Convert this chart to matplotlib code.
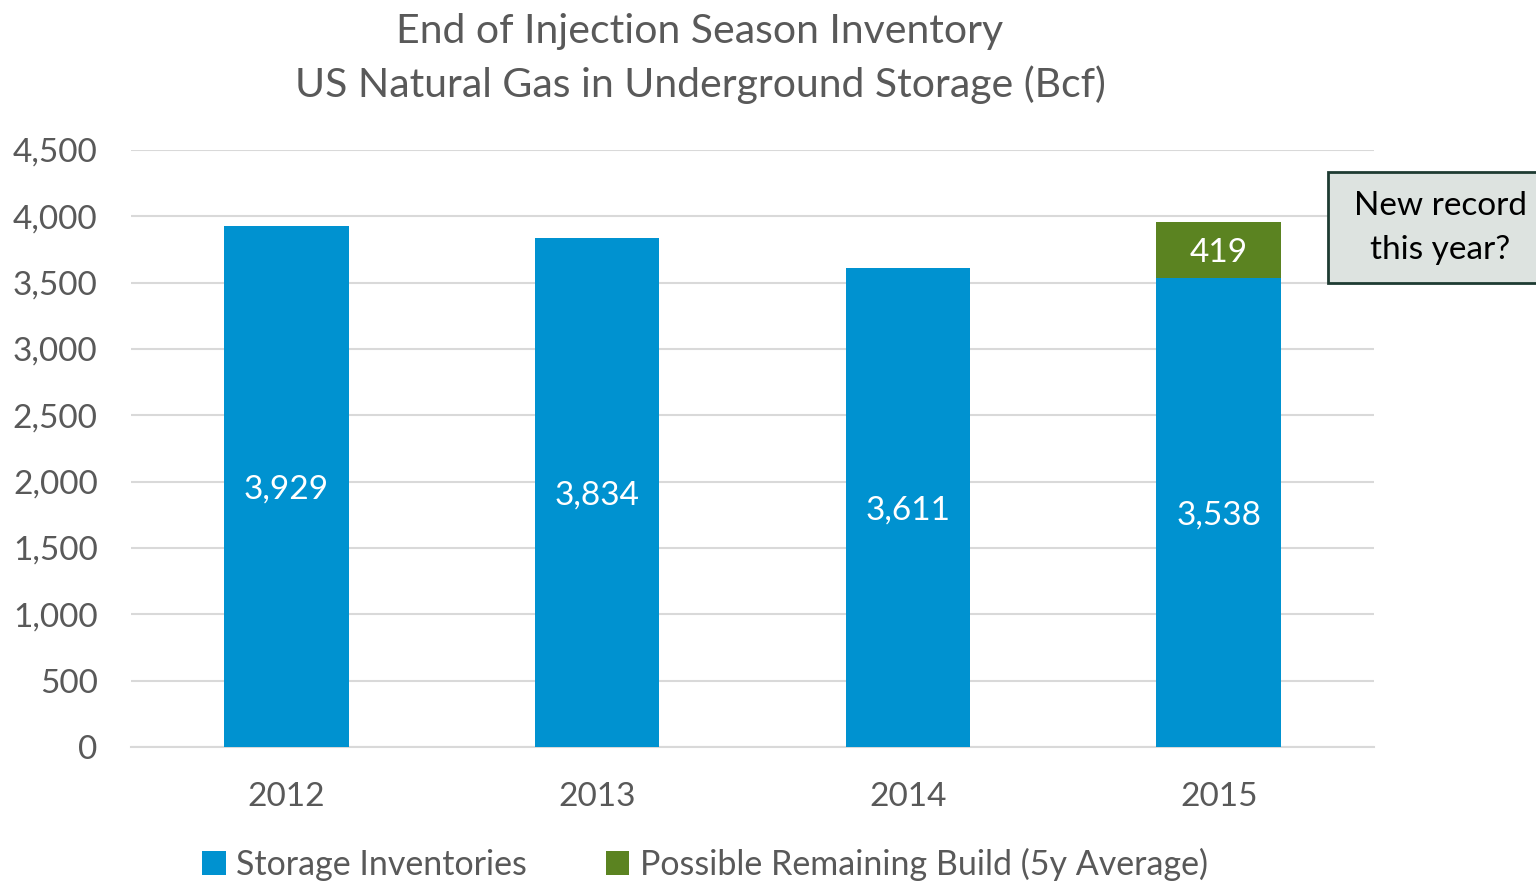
import matplotlib
matplotlib.use("Agg")
import matplotlib.pyplot as plt
from matplotlib.patches import Rectangle
from matplotlib.ticker import FuncFormatter

years = ["2012", "2013", "2014", "2015"]
storage = [3929, 3834, 3611, 3538]
remaining = [0, 0, 0, 419]
title_lines = ["End of Injection Season Inventory", "US Natural Gas in Underground Storage (Bcf)"]
legend_labels = ["Storage Inventories", "Possible Remaining Build (5y Average)"]
note_text = "New record\nthis year?"

BLUE = "#0092D0"
GREEN = "#5B8321"
GRAY = "#595959"
FONT = ["Lato", "DejaVu Sans"]
plt.rcParams["font.family"] = FONT

fig = plt.figure(figsize=(15.36, 8.82), dpi=100)
ax = fig.add_axes([131/1536, 1-747/882, (1374-131)/1536, (747-150)/882])

x = list(range(len(years)))
b1 = ax.bar(x, storage, width=0.4, color=BLUE, label=legend_labels[0], zorder=3)
b2 = ax.bar(x, remaining, width=0.4, bottom=storage, color=GREEN, label=legend_labels[1], zorder=3)

for xi, v in zip(x, storage):
    ax.text(xi, v/2, f"{v:,}", ha="center", va="center_baseline", color="white", fontsize=24, zorder=4)
for xi, s, r in zip(x, storage, remaining):
    if r > 0:
        ax.text(xi, s + r/2, f"{r:,}", ha="center", va="center_baseline", color="white", fontsize=24, zorder=4)

ax.set_xlim(-0.5, 3.5)
ax.set_ylim(0, 4500)
ax.set_yticks(range(0, 4501, 500))
ax.yaxis.set_major_formatter(FuncFormatter(lambda v, p: f"{int(v):,}"))
ax.set_xticks(x)
ax.set_xticklabels(years)
ax.tick_params(axis="both", length=0, labelsize=24, labelcolor=GRAY)
ax.tick_params(axis="x", pad=25)
ax.tick_params(axis="y", pad=24)
for lbl in ax.get_yticklabels():
    lbl.set_horizontalalignment("right")
ax.grid(axis="y", color="#D9D9D9", linewidth=1.5, zorder=0)
for s in ["top", "right", "left"]:
    ax.spines[s].set_visible(False)
ax.spines["bottom"].set_color("#D9D9D9")
ax.spines["bottom"].set_linewidth(1.5)

fig.text(700/1536, 1-31/882, title_lines[0], ha="center", va="center", fontsize=29.5, color=GRAY)
fig.text(700/1536, 1-85/882, title_lines[1], ha="center", va="center", fontsize=29.5, color=GRAY)

leg = fig.legend(handles=[b1, b2], labels=legend_labels, loc="center", bbox_to_anchor=(705/1536, 1-864/882),
                 ncol=2, frameon=False, fontsize=24.5, handlelength=0.7, handleheight=0.7,
                 handletextpad=0.3, columnspacing=2.3, labelcolor=GRAY)

rect = Rectangle((1328/1536, 1-283/882), (1545-1328)/1536, (283-172)/882, transform=fig.transFigure,
                 facecolor="#DDE3E0", edgecolor="#1E3B32", linewidth=2, zorder=5)
fig.add_artist(rect)
fig.text(1440/1536, 1-228/882, note_text, ha="center", va="center", fontsize=24, color="black",
         linespacing=1.55, zorder=6)

fig.savefig("out.png", dpi=100)
